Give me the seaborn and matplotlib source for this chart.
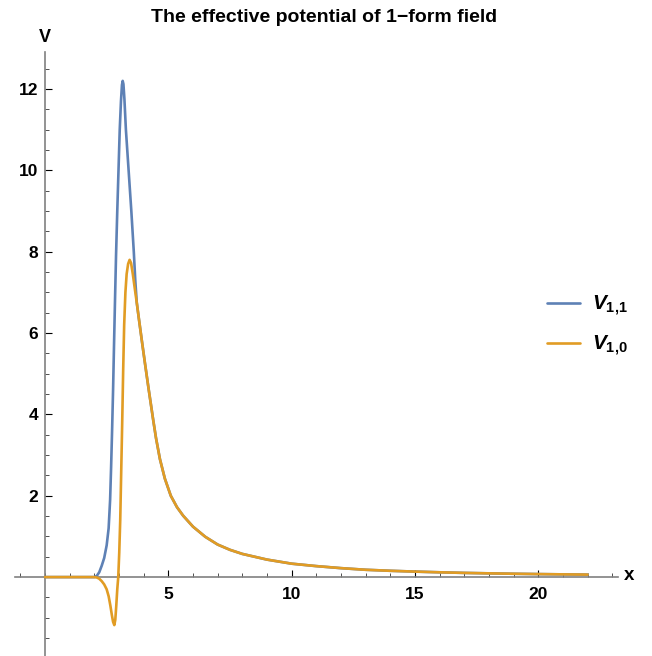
import numpy as np
import pandas as pd
import seaborn as sns
import matplotlib.pyplot as plt

# values
x_v11_head = [0, 1.0, 2.0, 2.1, 2.2, 2.3, 2.4, 2.5, 2.58, 2.64, 2.68, 2.72, 2.76, 2.80, 2.84, 2.88,
              2.93, 2.98, 3.03, 3.08, 3.12, 3.15, 3.18, 3.22, 3.28, 3.39, 3.50, 3.60, 3.66, 3.72]
v_v11_head = [0, 0, 0, 0.03, 0.12, 0.28, 0.47, 0.78, 1.2, 1.9, 2.7, 3.6, 4.6, 5.75, 6.85, 7.9,
              9.0, 10.0, 11.0, 11.7, 12.1, 12.2, 12.12, 11.75, 11.0, 10.0, 9.0, 8.0, 7.3, 6.75]

x_v10_head = [0, 1.0, 2.0, 2.1, 2.2, 2.3, 2.4, 2.5, 2.58, 2.65, 2.71, 2.76, 2.81, 2.85, 2.89, 2.93,
              2.97, 3.01, 3.05, 3.09, 3.13, 3.17, 3.21, 3.26, 3.31, 3.37, 3.43, 3.49, 3.56, 3.65, 3.72]
v_v10_head = [0, 0, 0, -0.01, -0.04, -0.1, -0.18, -0.3, -0.47, -0.7, -0.93, -1.1, -1.18, -1.05, -0.7, -0.3,
              0.0, 0.6, 1.4, 2.6, 3.8, 5.1, 6.2, 7.0, 7.45, 7.7, 7.8, 7.72, 7.45, 7.05, 6.75]

# both potentials coincide beyond the peaks
x_tail = [3.8, 3.92, 4.05, 4.2, 4.39, 4.5, 4.66, 4.86, 5.1, 5.35, 5.6, 6.0, 6.5, 7.0, 7.5, 8.0,
          9.0, 10, 11, 12, 13, 14, 15, 16, 17, 18, 19, 20, 21, 22]
v_tail = [6.38, 5.84, 5.27, 4.63, 3.85, 3.42, 2.9, 2.42, 2.0, 1.72, 1.51, 1.24, 0.99, 0.8, 0.67, 0.57,
          0.43, 0.33, 0.27, 0.22, 0.18, 0.155, 0.135, 0.118, 0.103, 0.092, 0.082, 0.074, 0.067, 0.061]

labels = [r'$V_{\mathrm{1{,}1}}$', r'$V_{\mathrm{1{,}0}}$']
colors = ['#5E81B5', '#E19C24']
x_major = [5, 10, 15, 20]
y_major = [2, 4, 6, 8, 10, 12]

df11 = pd.DataFrame({'x': x_v11_head + x_tail, 'V': v_v11_head + v_tail})
df10 = pd.DataFrame({'x': x_v10_head + x_tail, 'V': v_v10_head + v_tail})

sns.set_style('white')
plt.rcParams['font.family'] = ['Liberation Sans', 'DejaVu Sans']
plt.rcParams['font.weight'] = 'bold'
plt.rcParams['text.color'] = 'black'
plt.rcParams['xtick.labelcolor'] = 'black'
plt.rcParams['ytick.labelcolor'] = 'black'
plt.rcParams['mathtext.fontset'] = 'custom'
plt.rcParams['mathtext.it'] = 'Liberation Sans:italic:bold'
plt.rcParams['mathtext.rm'] = 'Liberation Sans:bold'

fig = plt.figure(figsize=(6.52, 6.56), dpi=100)
ax = fig.add_axes([15 / 652, 0, 603 / 652, 604 / 656])

sns.lineplot(data=df11, x='x', y='V', ax=ax, color=colors[0], linewidth=1.9, label=labels[0], zorder=3)
sns.lineplot(data=df10, x='x', y='V', ax=ax, color=colors[1], linewidth=1.9, label=labels[1], zorder=3)

ax.set_xlim(-1.216, 23.23)
ax.set_ylim(-1.94, 12.91)

# Mathematica style axes crossing at the origin
for s in ['top', 'right']:
    ax.spines[s].set_visible(False)
for s in ['left', 'bottom']:
    ax.spines[s].set_position(('data', 0))
    ax.spines[s].set_color('#808080')
    ax.spines[s].set_linewidth(1.2)

ax.set_xticks(x_major)
ax.set_xticks(np.arange(-1, 24, 1), minor=True)
ax.set_yticks(y_major)
ax.set_yticks(np.arange(-1.5, 13, 0.5), minor=True)
ax.tick_params(which='both', bottom=True, left=True, top=False, right=False)
ax.tick_params(which='major', direction='in', length=5, width=0.8, color='black', labelsize=12.5)
ax.tick_params(which='minor', direction='in', length=2.8, width=0.6, color='#333333')
ax.tick_params(axis='x', pad=7)
ax.tick_params(axis='y', pad=5)
for lab in ax.get_xticklabels() + ax.get_yticklabels():
    lab.set_fontweight('bold')

ax.set_xlabel('')
ax.set_ylabel('')
fig.text(45 / 652, 1 - 37 / 656, 'V', ha='center', va='center', fontsize=13, fontweight='bold')
fig.text(629 / 652, 1 - 576 / 656, 'x', ha='center', va='center', fontsize=13.5, fontweight='bold')
fig.text(324 / 652, 1 - 18 / 656, 'The effective potential of 1\u2212form field',
         ha='center', va='center', fontsize=14, fontweight='bold')

ax.legend(loc='center left', bbox_to_anchor=(547 / 652, 1 - 326 / 656), bbox_transform=fig.transFigure,
          frameon=False, fontsize=15, handlelength=1.6, handletextpad=0.55, labelspacing=0.75,
          borderpad=0, borderaxespad=0)

fig.savefig('out.png', dpi=100)
